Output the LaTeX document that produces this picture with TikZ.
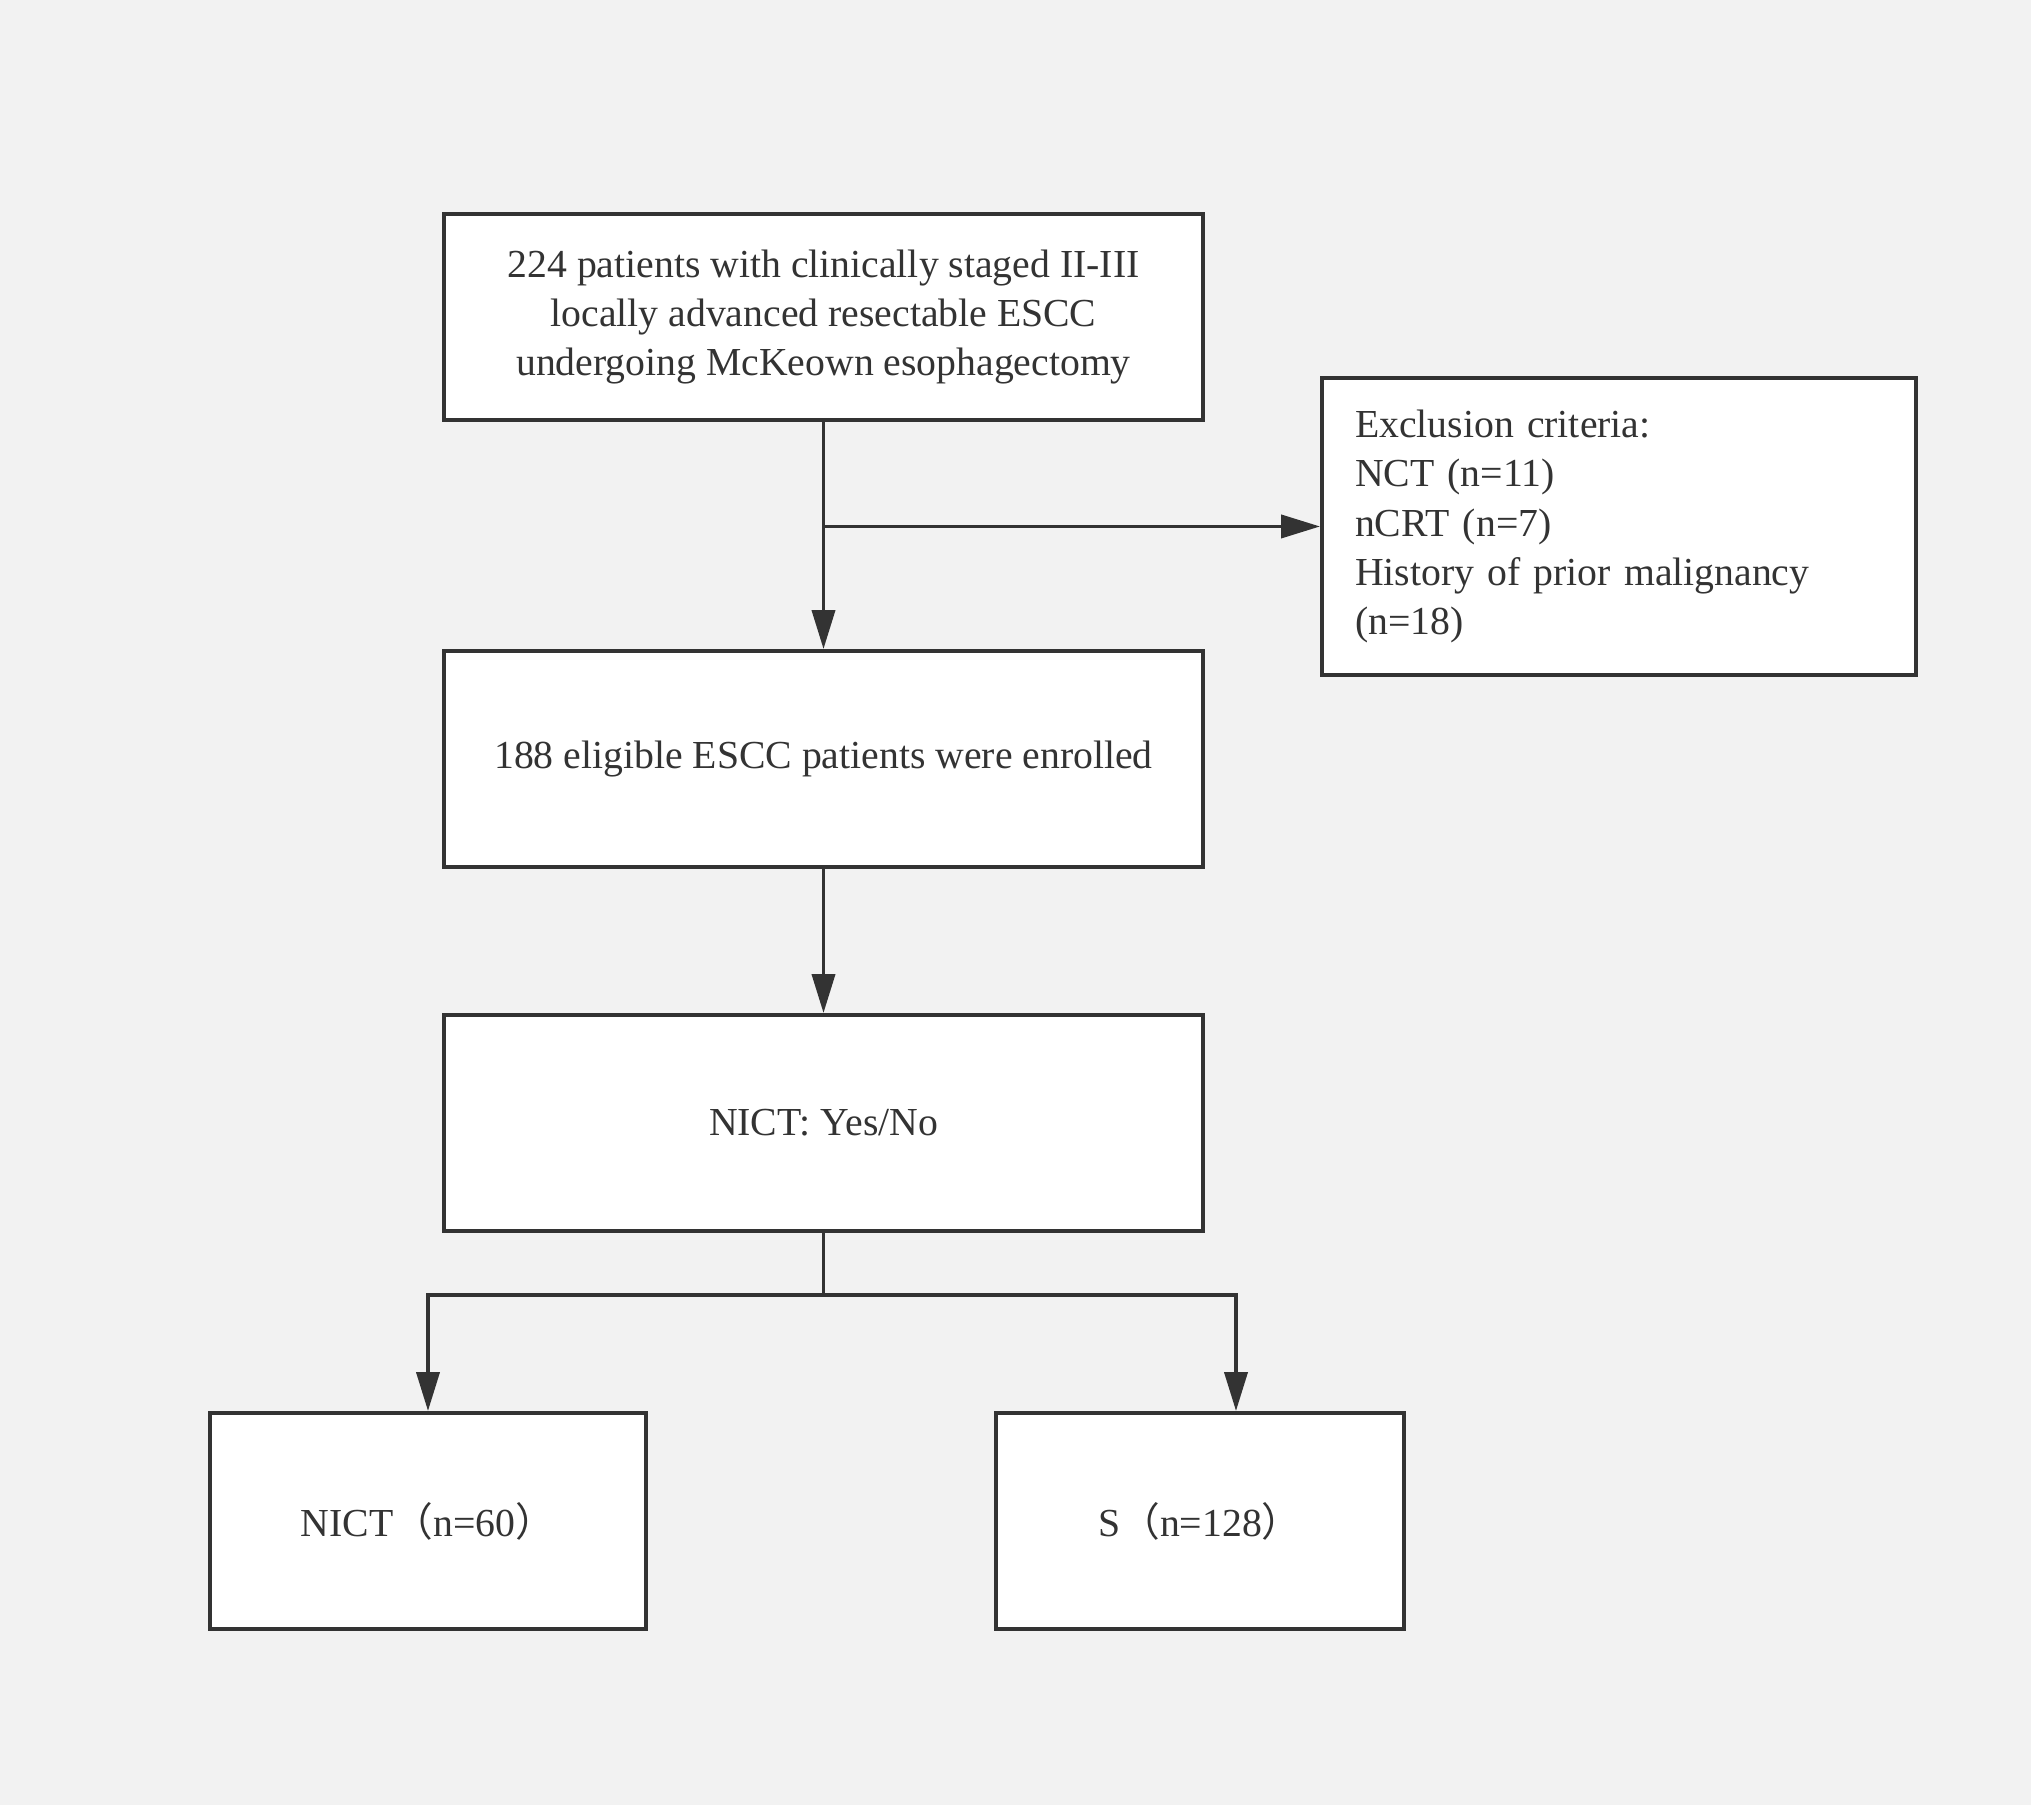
\documentclass[tikz,border=0pt]{standalone}
\usepackage{fontspec}
\setmainfont{Liberation Serif}
\newfontfamily\cjkfont{Noto Sans CJK SC}
\usetikzlibrary{arrows.meta}
\definecolor{pagegray}{HTML}{F2F2F2}
\definecolor{linegray}{HTML}{333333}

\begin{document}
\begin{tikzpicture}

% Page background
\fill [pagegray] (0,0) rectangle (20.31,18.05);
\useasboundingbox (0,0) rectangle (20.31,18.05);

\begin{scope}[every node/.style={rectangle,draw=linegray,line width=1.1pt,fill=white,
              text=linegray,font=\fontsize{11.3}{13.95}\selectfont,align=center}]
    % Main column
    \node (T) at (8.235,14.88) [minimum width=7.59cm, minimum height=2.06cm]
        {224 patients with clinically staged II-III\\
         locally advanced resectable ESCC\\
         undergoing McKeown esophagectomy};
    \node (E) at (8.235,10.46) [minimum width=7.59cm, minimum height=2.16cm]
        {188 eligible ESCC patients were enrolled};
    \node (N) at (8.235,6.82) [minimum width=7.59cm, minimum height=2.16cm]
        {NICT: Yes/No};

    % Exclusion box
    \node (X) at (16.19,12.785) [minimum height=2.97cm, text width=5.28cm,
        inner xsep=0.33cm, align=left]
        {Exclusion criteria:\\
         NCT (n=11)\\
         nCRT (n=7)\\
         History of prior malignancy\\
         (n=18)};

    % Groups
    \node (A) at (4.28,2.84) [minimum width=4.36cm, minimum height=2.16cm]
        {NICT{\cjkfont （}n=60{\cjkfont ）}};
    \node (B) at (12.00,2.84) [minimum width=4.08cm, minimum height=2.16cm]
        {S{\cjkfont （}n=128{\cjkfont ）}};
\end{scope}

\tikzset{FlowLine/.style={draw=linegray,line width=1.1pt}}

\begin{scope}[>={Triangle[length=3.9mm,width=2.3mm]}, every path/.style={FlowLine}]
    \draw [->] (T) -- (E);
    \coordinate (split) at (T.south |- X.west);
    \draw [->] (split) -- (X.west);

    \draw [->] (E) -- (N);

    % Split into the two groups
    \path (N.south) ++(0,-0.62) coordinate (fork);
    \draw (N.south) -- (fork);
    \draw [->] (fork) -| (A.north);
    \draw [->] (fork) -| ([xshift=3.6mm]B.north);
\end{scope}

\end{tikzpicture}
\end{document}
